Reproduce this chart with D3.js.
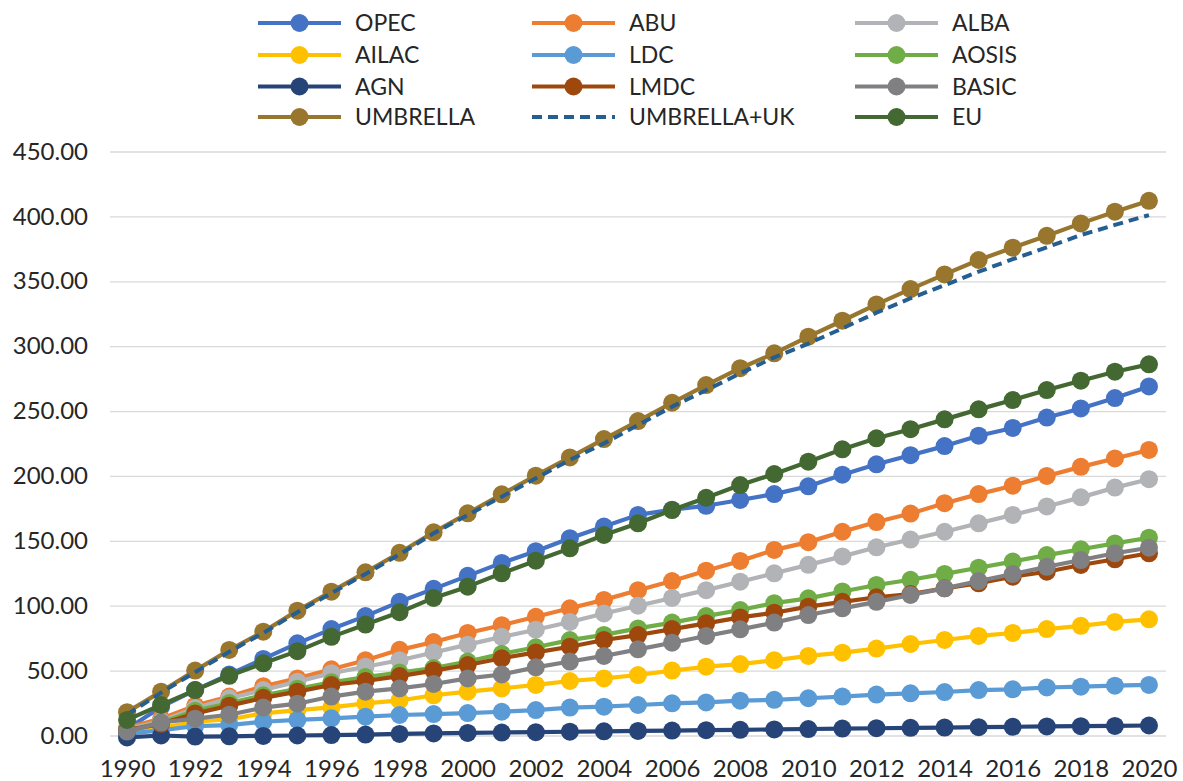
<!DOCTYPE html>
<html>
<head>
<meta charset="utf-8">
<script src="https://cdn.jsdelivr.net/npm/d3@7"></script>
<style>
  html, body { margin: 0; padding: 0; background: #fff; }
  svg { display: block; font-family: Lato, "Open Sans", sans-serif; }
</style>
</head>
<body>
<svg id="chart" width="1183" height="781"></svg>
<script>
const years = d3.range(1990, 2021);
const yTicks = [0, 50, 100, 150, 200, 250, 300, 350, 400, 450];
const xTickYears = d3.range(1990, 2021, 2);

const seriesNames = ["OPEC", "ABU", "ALBA", "AILAC", "LDC", "AOSIS", "AGN", "LMDC", "BASIC", "UMBRELLA", "UMBRELLA+UK", "EU"];
const seriesColors = ["#4472C4", "#ED7D31", "#B2B3B6", "#FFC000", "#5B9BD5", "#70AD47", "#264478", "#9E480E", "#808083", "#98762E", "#255E91", "#436832"];
const seriesDashed = [false, false, false, false, false, false, false, false, false, false, true, false];

const OPEC = [5, 22, 35, 47, 59, 71, 82, 92, 103, 113, 123, 133, 142, 152, 161, 170, 174, 177, 181.5, 186, 192, 201, 209, 216, 223, 231, 237, 245, 252, 260, 269];
const ABU = [6, 13, 23, 30, 38, 44, 51, 58, 66, 72, 79, 85, 91.5, 98, 104.5, 112, 119, 127, 134.5, 143, 149, 157, 164.5, 171, 179, 186, 192.5, 200, 207, 213.5, 220];
const ALBA = [5, 11, 21, 28.7, 35, 41.5, 48, 53, 58, 64, 70, 76, 81.5, 87.5, 94, 100, 106, 112, 118.5, 125, 131.5, 138, 145, 151, 157, 163.5, 170, 176.5, 183.5, 191, 197.5];
const AILAC = [2, 6, 10.6, 12.5, 17, 19.6, 21.7, 24.8, 27, 31, 33.8, 36.3, 39, 42, 44, 46.6, 50, 53, 55, 58, 61.3, 63.8, 67, 70.5, 73.6, 76.7, 79, 82, 84.5, 87.5, 89.5];
const LDC = [1.5, 4, 7.3, 8, 10.6, 12, 13.2, 14.5, 15.8, 16.5, 17.3, 18.3, 19.6, 21.5, 22.2, 23.5, 24.8, 25.5, 26.8, 27.5, 28.7, 30, 31.5, 32.5, 33.5, 35, 35.6, 37, 37.6, 38.4, 39];
const AOSIS = [4, 10, 19, 25, 31, 36, 41, 45, 48.5, 52, 57, 63, 68, 73.5, 77.5, 82.5, 87, 92, 96.7, 102, 105.7, 111, 116, 120, 124.5, 129.3, 134, 139, 143.5, 148, 152.4];
const AGN = [-1.5, 0, -0.8, -0.6, -0.3, 0, 0.3, 0.7, 1.2, 1.6, 2, 2.3, 2.6, 2.9, 3.2, 3.5, 3.8, 4.1, 4.4, 4.7, 5, 5.3, 5.6, 5.9, 6.1, 6.4, 6.7, 7, 7.2, 7.4, 7.7];
const LMDC = [4, 9, 17, 23, 29, 33.8, 38.9, 42, 45.8, 50, 54.3, 59.5, 64, 68.4, 73.6, 77.4, 82, 86.4, 91, 94.6, 99.3, 103, 106.5, 109, 113.4, 117.3, 122.4, 126.2, 131.4, 135.8, 140.4];
const BASIC = [3, 10, 13, 16, 21.5, 24.5, 30, 33.8, 36.3, 39.7, 44, 47, 52.5, 57, 61.3, 66.4, 71.5, 76.7, 81.8, 87, 92.8, 98, 103, 108.3, 113.4, 119, 124.4, 130, 135.2, 140.4, 144.7];
const UMBRELLA = [18, 33.8, 50, 65.9, 80, 96.2, 110.8, 125.7, 140.8, 156.6, 171.2, 185.8, 200.2, 214.3, 228.4, 242.3, 256.4, 270, 283, 294.5, 307.3, 319.6, 332.2, 344, 355.3, 366.4, 375.9, 385, 394.6, 403.6, 412];
const UMBRELLA_UK = [16, 33, 48.8, 64.5, 79, 95, 109.7, 124.5, 139.5, 155.8, 169.9, 184, 198.2, 212.3, 225.1, 239.2, 253.4, 266, 279, 291.4, 302, 313.7, 325.8, 336.9, 347, 357.4, 367, 376.2, 385.6, 393.4, 401];
const EU = [12, 23.5, 35, 46, 55.6, 65, 76, 85.5, 95, 106, 114.7, 125, 134.7, 144.2, 154.5, 163.5, 173.7, 183.2, 193, 201.5, 211, 220.5, 229, 236, 243.6, 251.3, 258.5, 266.2, 273.4, 280.3, 286];

const seriesValues = [OPEC, ABU, ALBA, AILAC, LDC, AOSIS, AGN, LMDC, BASIC, UMBRELLA, UMBRELLA_UK, EU];

const series = seriesNames.map((name, i) => ({
  name, color: seriesColors[i], dashed: seriesDashed[i],
  values: years.map((yr, j) => ({ year: yr, value: seriesValues[i][j] }))
}));

const svg = d3.select("#chart");
const plotLeft = 110, plotRight = 1166, plotTop = 151.5, plotBottom = 735.5;
const textColor = "#262626";

const x = d3.scalePoint().domain(years).range([plotLeft, plotRight]).padding(0.5);
const y = d3.scaleLinear().domain([0, 450]).range([plotBottom, plotTop]);

// Y axis with gridlines
const yAxis = svg.append("g")
  .attr("transform", `translate(${plotLeft},0)`)
  .call(d3.axisLeft(y).tickValues(yTicks).tickFormat(d3.format(".2f"))
    .tickSize(-(plotRight - plotLeft)).tickPadding(22));
yAxis.select(".domain").remove();
yAxis.selectAll(".tick line").attr("stroke", "#D9D9D9").attr("stroke-width", 1.3);
yAxis.selectAll(".tick text").attr("fill", textColor).attr("font-size", 24)
  .attr("font-family", "Lato, sans-serif");

// X axis
const xAxis = svg.append("g")
  .attr("transform", `translate(0,${plotBottom})`)
  .call(d3.axisBottom(x).tickValues(xTickYears).tickSize(0).tickPadding(24));
xAxis.select(".domain").remove();
xAxis.selectAll(".tick text").attr("fill", textColor).attr("font-size", 24)
  .attr("font-family", "Lato, sans-serif");

// Series
const line = d3.line().x(d => x(d.year)).y(d => y(d.value));
series.forEach(s => {
  const g = svg.append("g").attr("class", "series");
  g.append("path")
    .datum(s.values)
    .attr("fill", "none")
    .attr("stroke", s.color)
    .attr("stroke-width", s.dashed ? 4 : 4.2)
    .attr("stroke-linejoin", "round")
    .attr("stroke-dasharray", s.dashed ? "10,6" : null)
    .attr("d", line);
  if (!s.dashed) {
    g.selectAll("circle").data(s.values).join("circle")
      .attr("cx", d => x(d.year))
      .attr("cy", d => y(d.value))
      .attr("r", 9)
      .attr("fill", s.color);
  }
});

// Legend
const colX = [258, 532, 855];
const rowY = [23, 55, 86.5, 117];
const legend = svg.append("g");
series.forEach((s, i) => {
  const cx = colX[i % 3], cy = rowY[Math.floor(i / 3)];
  const g = legend.append("g").attr("transform", `translate(${cx},${cy})`);
  g.append("line").attr("x1", 0).attr("x2", 83).attr("y1", 0).attr("y2", 0)
    .attr("stroke", s.color).attr("stroke-width", 4.2)
    .attr("stroke-dasharray", s.dashed ? "10,6" : null);
  if (!s.dashed) {
    g.append("circle").attr("cx", 41.5).attr("cy", 0).attr("r", 9).attr("fill", s.color);
  }
  g.append("text").attr("x", 97).attr("y", 0).attr("dy", "0.35em")
    .attr("fill", textColor).attr("font-size", 23).attr("font-family", "Lato, sans-serif")
    .text(s.name);
});
</script>
</body>
</html>
